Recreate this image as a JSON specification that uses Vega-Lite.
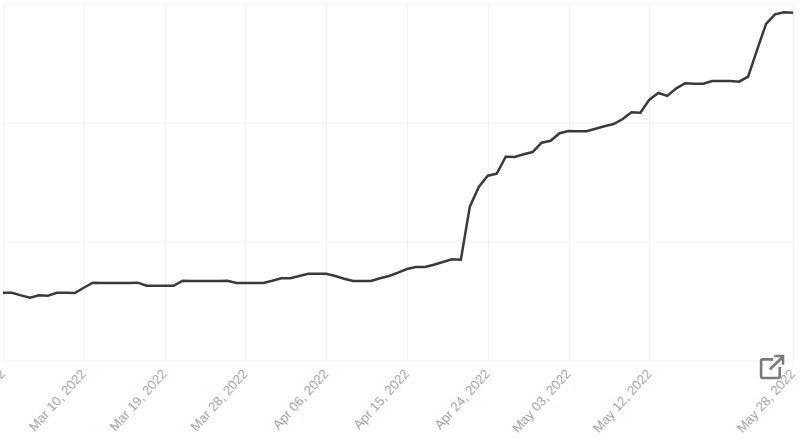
{"$schema":"https://vega.github.io/schema/vega-lite/v6.json","width":790,"height":356.5,"autosize":"none","padding":{"left":3,"top":3.5,"right":7,"bottom":88},"background":"white","config":{"view":{"stroke":null}},"layer":[{"data":{"values":[{"d":"2022-03-01","v":0.566},{"d":"2022-03-02","v":0.566},{"d":"2022-03-03","v":0.544},{"d":"2022-03-04","v":0.524},{"d":"2022-03-05","v":0.544},{"d":"2022-03-06","v":0.541},{"d":"2022-03-07","v":0.566},{"d":"2022-03-08","v":0.566},{"d":"2022-03-09","v":0.564},{"d":"2022-03-10","v":0.608},{"d":"2022-03-11","v":0.651},{"d":"2022-03-12","v":0.648},{"d":"2022-03-13","v":0.648},{"d":"2022-03-14","v":0.648},{"d":"2022-03-15","v":0.648},{"d":"2022-03-16","v":0.651},{"d":"2022-03-17","v":0.625},{"d":"2022-03-18","v":0.625},{"d":"2022-03-19","v":0.625},{"d":"2022-03-20","v":0.625},{"d":"2022-03-21","v":0.667},{"d":"2022-03-22","v":0.665},{"d":"2022-03-23","v":0.665},{"d":"2022-03-24","v":0.665},{"d":"2022-03-25","v":0.665},{"d":"2022-03-26","v":0.667},{"d":"2022-03-27","v":0.648},{"d":"2022-03-28","v":0.648},{"d":"2022-03-29","v":0.648},{"d":"2022-03-30","v":0.648},{"d":"2022-03-31","v":0.667},{"d":"2022-04-01","v":0.688},{"d":"2022-04-02","v":0.688},{"d":"2022-04-03","v":0.707},{"d":"2022-04-04","v":0.726},{"d":"2022-04-05","v":0.726},{"d":"2022-04-06","v":0.726},{"d":"2022-04-07","v":0.707},{"d":"2022-04-08","v":0.684},{"d":"2022-04-09","v":0.665},{"d":"2022-04-10","v":0.665},{"d":"2022-04-11","v":0.665},{"d":"2022-04-12","v":0.688},{"d":"2022-04-13","v":0.707},{"d":"2022-04-14","v":0.735},{"d":"2022-04-15","v":0.766},{"d":"2022-04-16","v":0.783},{"d":"2022-04-17","v":0.783},{"d":"2022-04-18","v":0.802},{"d":"2022-04-19","v":0.825},{"d":"2022-04-20","v":0.847},{"d":"2022-04-21","v":0.844},{"d":"2022-04-22","v":1.29},{"d":"2022-04-23","v":1.456},{"d":"2022-04-24","v":1.551},{"d":"2022-04-25","v":1.568},{"d":"2022-04-26","v":1.711},{"d":"2022-04-27","v":1.708},{"d":"2022-04-28","v":1.731},{"d":"2022-04-29","v":1.75},{"d":"2022-04-30","v":1.829},{"d":"2022-05-01","v":1.845},{"d":"2022-05-02","v":1.908},{"d":"2022-05-03","v":1.927},{"d":"2022-05-04","v":1.925},{"d":"2022-05-05","v":1.925},{"d":"2022-05-06","v":1.946},{"d":"2022-05-07","v":1.967},{"d":"2022-05-08","v":1.986},{"d":"2022-05-09","v":2.026},{"d":"2022-05-10","v":2.084},{"d":"2022-05-11","v":2.081},{"d":"2022-05-12","v":2.191},{"d":"2022-05-13","v":2.247},{"d":"2022-05-14","v":2.222},{"d":"2022-05-15","v":2.286},{"d":"2022-05-16","v":2.329},{"d":"2022-05-17","v":2.325},{"d":"2022-05-18","v":2.325},{"d":"2022-05-19","v":2.348},{"d":"2022-05-20","v":2.348},{"d":"2022-05-21","v":2.348},{"d":"2022-05-22","v":2.342},{"d":"2022-05-23","v":2.384},{"d":"2022-05-24","v":2.609},{"d":"2022-05-25","v":2.828},{"d":"2022-05-26","v":2.909},{"d":"2022-05-27","v":2.926},{"d":"2022-05-28","v":2.923}]},"mark":{"type":"line","color":"#3a3a3a","strokeWidth":2.5,"interpolate":"linear"},"encoding":{"x":{"field":"d","type":"temporal","scale":{"type":"utc","domain":["2022-03-01","2022-05-28"]},"axis":{"values":["2022-03-01","2022-03-10","2022-03-19","2022-03-28","2022-04-06","2022-04-15","2022-04-24","2022-05-03","2022-05-12","2022-05-28"],"format":"%b %d, %Y","title":null,"labelAngle":-48,"labelAlign":"right","labelBaseline":"top","labelFont":"Liberation Sans","labelFontSize":13.2,"labelColor":"#a6a6a6","labelPadding":7,"labelOffset":-5,"labelBound":false,"labelFlush":false,"labelOverlap":false,"ticks":false,"domain":false,"grid":true,"gridColor":"#f2f2f2","gridWidth":1.2}},"y":{"field":"v","type":"quantitative","scale":{"domain":[0,3],"nice":false,"zero":false},"axis":{"values":[0,1,2,3],"labels":false,"title":null,"ticks":false,"domain":false,"grid":true,"gridColor":"#f2f2f2","gridWidth":1.2}}}},{"data":{"values":[{"d":"2022-05-25T16:00:00Z","v":-0.059}]},"mark":{"type":"point","shape":"M0.1,-0.7 L-0.85,-0.7 Q-1,-0.7 -1,-0.55 L-1,0.85 Q-1,1 -0.85,1 L0.55,1 Q0.7,1 0.7,0.85 L0.7,0 M-0.2,0.2 L0.9,-0.85 M0.2,-1 L1,-1 L1,-0.2","filled":false,"stroke":"#7a7a7a","strokeWidth":2.6,"size":480,"opacity":1},"encoding":{"x":{"field":"d","type":"temporal"},"y":{"field":"v","type":"quantitative"}}}]}
